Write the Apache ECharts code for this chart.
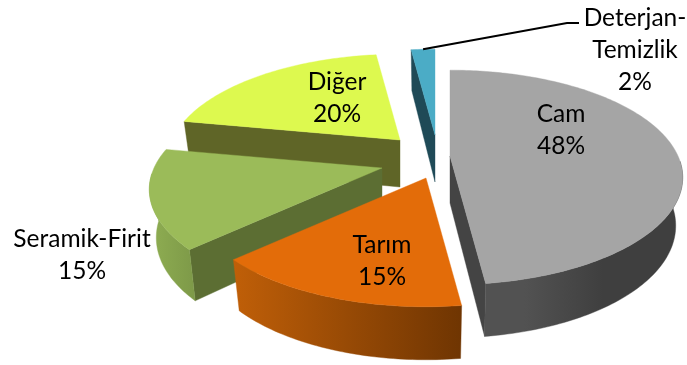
<!DOCTYPE html>
<html>
<head>
<meta charset="utf-8">
<style>html,body{margin:0;padding:0;background:#fff}#chart{width:687px;height:365px}</style>
<script src="https://cdn.jsdelivr.net/npm/echarts@6/dist/echarts.min.js"></script>
</head>
<body>
<div id="chart"></div>
<script>
// Shares of each sector, clockwise from twelve o'clock
const categories = ['Cam', 'Tarım', 'Seramik-Firit', 'Diğer', 'Deterjan-\nTemizlik'];
const shares = [48, 15, 15, 20, 2];

// Where each exploded wedge's tip sits on the page
const wedgeTips = [[450, 156], [426, 178], [382, 168], [400, 140], [435, 135]];
const labelCentres = [[561, 130], [382, 261], [82, 255], [337, 98], [635, 50]];
const topColors = ['#a5a5a5', '#e36c09', '#9bbb59', '#ddf94f', '#4bacc6'];
const cutColors = ['#444444', '#7a3b04', '#5c6e33', '#5f6527', '#1f4a57'];
const wallColors = [
  ['#525252', '#3f3f3f'],
  ['#c05f08', '#6f3502'],
  ['#8fae52', '#7d9948'],
  ['#5f6527', '#5f6527'],
  ['#1f4a57', '#1f4a57']
];
// Back-to-front painting order
const paintOrder = [4, 3, 2, 1, 0];
const leaderElbow = [[567, 23], [579, 23]];

const RX = 228, RY = 103, PERSPECTIVE = 0.2, BASE_SHRINK = 0.97;
const depthAt = (y) => 47 + 6 * y;

function rimPoint(tip, deg, bottom) {
  const a = deg * Math.PI / 180, X = Math.sin(a), Y = -Math.cos(a);
  const s = 1 / (1 - PERSPECTIVE * Y);
  return bottom
    ? [tip[0] + BASE_SHRINK * RX * X * s, tip[1] + RY * Y * s + depthAt(Y)]
    : [tip[0] + RX * X * s, tip[1] + RY * Y * s];
}

const total = shares.reduce((p, c) => p + c, 0);
function angleRange(i) {
  let before = 0;
  for (let k = 0; k < i; k++) before += shares[k];
  return [before / total * 360, (before + shares[i]) / total * 360];
}

function poly(points, fill, z2) {
  return { type: 'polygon', z2, shape: { points }, style: { fill, stroke: fill, lineWidth: 0.4 } };
}

function renderWedge(params, api) {
  const i = params.dataIndex;
  const value = api.value(0);
  const [a0, a1] = angleRange(i);
  const tip = wedgeTips[i];
  const tipLow = [tip[0], tip[1] + depthAt(0)];
  const rank = paintOrder.indexOf(i) * 10 + 1;
  const children = [];

  const topArc = [];
  for (let d = a0; d < a1; d += 1) topArc.push(rimPoint(tip, d, false));
  topArc.push(rimPoint(tip, a1, false));

  // Only the front of the curved wall can be seen
  const wallHi = [], wallLo = [];
  for (let d = a0; d <= a1; d = d < a1 && d + 1 > a1 ? a1 : d + 1) {
    if (-Math.cos(d * Math.PI / 180) > 0.05) {
      wallHi.push(rimPoint(tip, d, false));
      wallLo.push(rimPoint(tip, d, true));
    }
    if (d === a1) break;
  }

  // A flat cut face shows when its edge runs away from the wedge's lower side
  const cut = (deg) => poly(
    [tip, rimPoint(tip, deg, false), rimPoint(tip, deg, true), tipLow], cutColors[i], rank
  );
  if (a1 < 180) children.push(cut(a1));
  if (a0 >= 180) children.push(cut(a0));

  if (wallHi.length > 1) {
    children.push(poly(wallHi.concat(wallLo.slice().reverse()), {
      type: 'linear', x: 0, y: 0, x2: 1, y2: 0,
      colorStops: i === 0
        ? [{ offset: 0.2, color: wallColors[i][0] }, { offset: 0.6, color: wallColors[i][1] }]
        : [{ offset: 0, color: wallColors[i][0] }, { offset: 1, color: wallColors[i][1] }]
    }, rank + 1));
  }
  children.push(poly([tip].concat(topArc), topColors[i], rank + 2));

  // Sector name over its percentage
  children.push({
    type: 'text', z2: 100,
    style: {
      x: labelCentres[i][0], y: labelCentres[i][1],
      text: categories[i] + '\n' + value + '%',
      align: 'center', verticalAlign: 'middle',
      font: '24.5px Lato, Carlito, sans-serif', lineHeight: 32, fill: '#000'
    }
  });

  // Leader line for the narrow wedge whose label sits outside it
  if (i === 4) {
    children.push({
      type: 'polyline', z2: 100,
      shape: { points: [rimPoint(tip, (a0 + a1) / 2, false)].concat(leaderElbow) },
      style: { fill: 'none', stroke: '#000', lineWidth: 2 }
    });
  }
  return { type: 'group', children };
}

const chart = echarts.init(document.getElementById('chart'), null, { renderer: 'canvas' });
chart.setOption({
  animation: false,
  backgroundColor: '#fff',
  series: [{
    type: 'custom',
    coordinateSystem: 'none',
    silent: true,
    renderItem: renderWedge,
    data: shares.map((v) => [v])
  }]
});
</script>
</body>
</html>
